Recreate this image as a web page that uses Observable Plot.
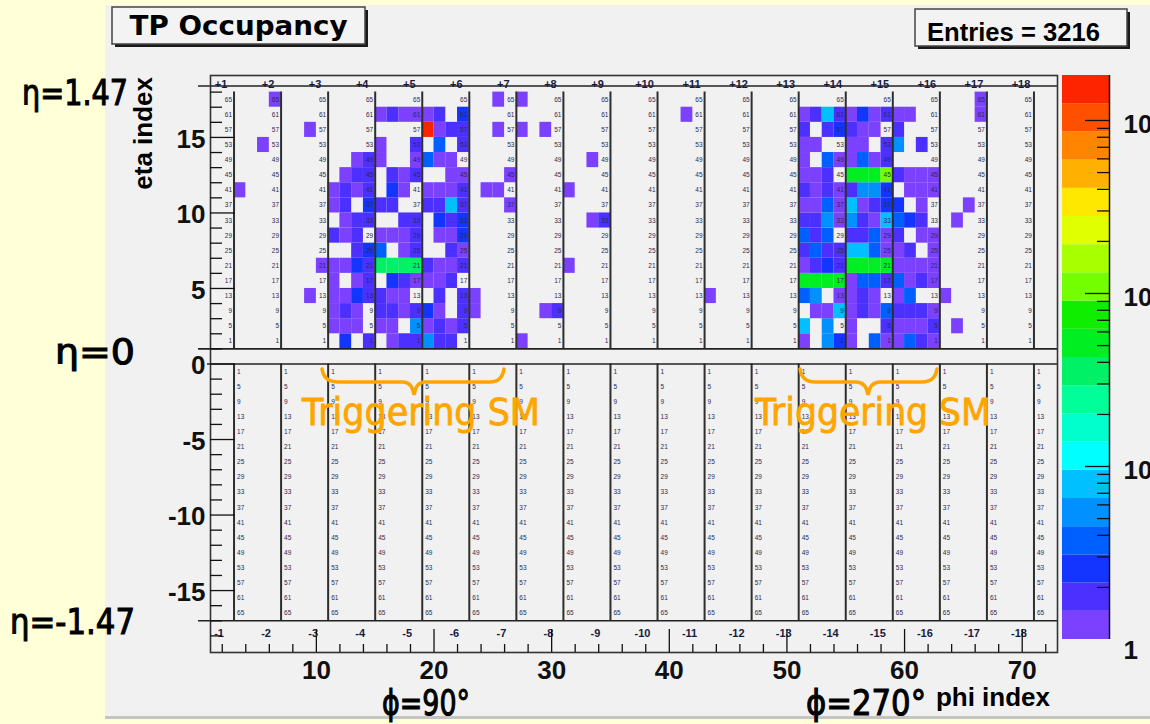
<!DOCTYPE html>
<html>
<head>
<meta charset="utf-8">
<script src="https://cdn.jsdelivr.net/npm/d3@7"></script>
<script src="https://cdn.jsdelivr.net/npm/@observablehq/plot@0.6"></script>
<style>
html,body{margin:0;padding:0;background:#ffffd8;}
#wrap{position:relative;width:1150px;height:724px;overflow:hidden;background:#ffffd8;}
#canvas{position:absolute;left:105px;top:5px;width:1045px;height:711px;background:#f1f1f1;border-bottom:3px solid #c4c4c4;}
.layer{position:absolute;left:0;top:0;}
</style>
</head>
<body>
<div id="wrap">
  <div id="canvas"></div>
  <div id="main" class="layer"></div>
  <div id="cbar" class="layer"></div>
  <svg id="overlay" class="layer" width="1150" height="724"></svg>
</div>
<script>
// ---------------- DATA ----------------
const titleText = "TP Occupancy";
const entriesText = "Entries = 3216";
// occupied trigger towers of the eta>0 half: [phi index, count] for eta rows 1..17
const row17 = [[6,1],[25,1],[27,1],[66,1]];
const row16 = [[15,1],[16,2],[17,1],[18,1],[19,1],[20,2],[22,3],[41,1],[51,1],[52,2],[53,7],[54,2],[55,1],[56,3],[57,1],[58,2],[59,1],[60,1],[66,1]];
const row15 = [[9,1],[19,1700],[20,1],[21,2],[22,2],[25,1],[27,1],[29,1],[51,2],[53,2],[54,3],[55,2],[56,1],[57,1],[59,2]];
const row14 = [[5,1],[15,1],[18,2],[20,4],[22,2],[51,1],[52,1],[55,1],[56,1],[58,2],[59,5],[61,2]];
const row13 = [[13,1],[14,2],[15,1],[18,1],[19,4],[20,1],[21,1],[33,1],[51,1],[53,4],[54,1],[55,1],[56,4],[57,1],[58,2]];
const row12 = [[12,1],[13,2],[14,2],[16,2],[17,1],[18,2],[21,1],[22,1],[26,1],[51,1],[52,1],[53,2],[55,50],[56,50],[57,50],[58,100],[59,2],[60,1],[61,1],[62,1]];
const row11 = [[3,1],[11,1],[12,2],[13,1],[14,2],[16,3],[17,1],[19,1],[20,1],[21,1],[22,2],[24,1],[25,1],[31,1],[51,2],[52,1],[53,2],[54,1],[55,2],[56,5],[57,5],[58,3],[60,1],[61,1],[62,1]];
const row10 = [[11,1],[12,2],[14,3],[15,2],[16,2],[19,2],[20,2],[21,7],[22,2],[26,1],[51,1],[52,1],[53,4],[54,1],[55,7],[56,1],[57,2],[58,3],[59,3],[61,1],[65,1]];
const row9  = [[12,1],[13,2],[14,2],[17,2],[18,2],[20,3],[21,2],[22,3],[33,1],[34,2],[51,2],[52,2],[53,6],[54,1],[55,5],[56,2],[57,1],[58,7],[59,4],[60,3],[61,2],[64,1]];
const row8  = [[11,2],[12,1],[13,2],[15,1],[16,1],[17,1],[18,2],[20,1],[21,1],[22,3],[51,4],[52,2],[53,4],[55,2],[56,2],[57,4],[58,1],[59,2],[61,1],[62,1]];
const row7  = [[13,2],[14,3],[15,4],[17,1],[18,2],[21,2],[22,1],[51,2],[52,4],[53,2],[54,2],[55,7],[56,7],[57,4],[58,1],[59,1],[60,2],[62,1]];
const row6  = [[10,1],[11,1],[12,1],[13,3],[14,2],[15,35],[16,35],[17,35],[18,35],[19,2],[20,1],[21,1],[22,2],[31,1],[51,1],[52,2],[53,3],[54,2],[55,50],[56,50],[57,50],[58,50],[59,1],[60,1],[61,1],[62,1]];
const row5  = [[11,1],[13,1],[14,2],[16,3],[17,2],[18,1],[19,1],[20,1],[21,2],[51,50],[52,50],[53,50],[54,50],[55,1],[56,4],[57,4],[58,2],[59,4],[60,1],[61,2],[62,1]];
const row4  = [[9,1],[11,1],[12,1],[13,3],[14,2],[15,2],[16,1],[17,1],[20,2],[22,2],[23,1],[43,1],[51,4],[52,5],[54,1],[55,1],[56,2],[57,1],[59,1],[60,4],[63,1]];
const row3  = [[11,1],[12,2],[13,1],[15,2],[16,2],[17,1],[18,2],[19,3],[20,1],[22,2],[23,1],[29,1],[30,2],[52,1],[53,1],[54,7],[55,1],[56,2],[57,1],[58,4],[59,2],[60,2],[61,2],[62,1]];
const row2  = [[11,1],[12,1],[13,1],[15,1],[16,1],[18,5],[19,1],[20,2],[21,1],[22,2],[51,7],[53,5],[55,1],[58,2],[59,1],[60,1],[61,1],[62,2],[64,1]];
const row1  = [[12,3],[14,2],[16,1],[17,2],[18,2],[19,5],[20,2],[21,2],[27,1],[51,1],[53,5],[54,3],[55,1],[57,4],[58,1],[59,1],[60,4],[61,2],[62,1]];

// supermodule boundaries (phi index) and their names
const smEdges = [3,7,11,15,19,23,27,31,35,39,43,47,51,55,59,63,67,71];
const smTop = ["+1","+2","+3","+4","+5","+6","+7","+8","+9","+10","+11","+12","+13","+14","+15","+16","+17","+18"];
const smBottom = ["-1","-2","-3","-4","-5","-6","-7","-8","-9","-10","-11","-12","-13","-14","-15","-16","-17","-18"];
// tower labels printed in each eta row (row 1 .. row 17)
const rowLabels = [1,5,9,13,17,21,25,29,33,37,41,45,49,53,57,61,65];

// axes
const yTickValues = [-15,-10,-5,0,5,10,15];
const yTickLabels = ["-15","-10","-5","0","5","10","15"];
const yMinor = [-18,-17,-16,-14,-13,-12,-11,-9,-8,-7,-6,-4,-3,-2,-1,1,2,3,4,6,7,8,9,11,12,13,14,16,17,18];
const xTickValues = [10,20,30,40,50,60,70];
const xTickLabels = ["10","20","30","40","50","60","70"];
const xMinor = [2,4,6,8,12,14,16,18,22,24,26,28,32,34,36,38,42,44,46,48,52,54,56,58,62,64,66,68,72];

// colour axis (log)
const zMin = 1, zMax = 1820;
const zMajor = [10,100,1000];
const zMajorLabels = ["10\u00b9","10\u00b2","10\u00b3"];
const zMinor = [2,3,4,5,6,7,8,9,20,30,40,50,60,70,80,90,200,300,400,500,600,700,800,900];
const bandColors = ["#7c40ff","#4c30ff","#1434ff","#0060ff","#0090ff","#00c0ff","#00ffff","#00ffcc","#00ff99","#00f066",
                    "#00ee22","#10ee00","#74ff00","#a8ff00","#e0ff00","#ffe800","#ffb000","#ff8400","#ff5000","#ff2400"];

// ---------------- BUILD ----------------
const rows = [row1,row2,row3,row4,row5,row6,row7,row8,row9,row10,row11,row12,row13,row14,row15,row16,row17];
const cells = rows.flatMap((row, i) => row.map(([phi, count]) => ({phi, eta: i + 1, count})));
const nB = bandColors.length;
const zEdges = d3.range(nB + 1).map(k => Math.pow(10, k * Math.log10(zMax / zMin) / nB) * zMin);
const bands = bandColors.map((c, k) => ({lo: zEdges[k], hi: zEdges[k + 1], color: c}));

const topLabels = smEdges.flatMap(e => rowLabels.map((t, i) => ({x: e, y: i + 1.5, t: String(t)})));
const botLabels = smEdges.flatMap(e => rowLabels.map((t, i) => ({x: e, y: -i - 0.5, t: String(t)})));

const W = 1150, H = 724;
const ML = 210, MR = 93, MT = 75, MB = 72;
const FW = W - ML - MR, FH = H - MT - MB;
const axisFont = {fontFamily: "Liberation Sans", fontWeight: "bold", fill: "#111"};

const main = Plot.plot({
  width: W, height: H,
  marginLeft: ML, marginRight: MR, marginTop: MT, marginBottom: MB,
  x: {domain: [1, 73], axis: null},
  y: {domain: [-19.1, 19.1], axis: null},
  color: {type: "threshold", domain: zEdges.slice(1, nB), range: bandColors},
  style: {background: "transparent", overflow: "visible"},
  marks: [
    Plot.rect(cells, {x1: "phi", x2: d => d.phi + 1, y1: "eta", y2: d => d.eta + 1, fill: "count"}),
    Plot.ruleX(smEdges, {y1: 1, y2: 18, stroke: "#2e2e2e", strokeWidth: 2}),
    Plot.ruleX(smEdges, {y1: -17, y2: 0, stroke: "#2e2e2e", strokeWidth: 2}),
    Plot.ruleY([18.4, 1, -17], {stroke: "#222", strokeWidth: 1.6, insetLeft: -12}),
    Plot.ruleY([0], {stroke: "#222", strokeWidth: 1.6, insetLeft: -3}),
    Plot.text(topLabels, {x: "x", y: "y", text: "t", textAnchor: "end", dx: -2, fontSize: 6.5, fontFamily: "Liberation Sans", fill: "#2a2a55"}),
    Plot.text(botLabels, {x: "x", y: "y", text: "t", textAnchor: "start", dx: 3, fontSize: 6.5, fontFamily: "Liberation Sans", fill: "#2a2a55"}),
    Plot.text(smEdges, {x: d => d, y: 18.4, text: (d, i) => smTop[i], textAnchor: "middle", dx: -13, dy: -2, fontSize: 11, fontFamily: "Liberation Sans", fontWeight: "bold", fill: "#1a1a40"}),
    Plot.text(smEdges, {x: d => d, y: -17, text: (d, i) => smBottom[i], textAnchor: "middle", dx: -15, dy: 13, fontSize: 11, fontFamily: "Liberation Sans", fontWeight: "bold", fill: "#1a1a40"}),
    Plot.frame({stroke: "#333", strokeWidth: 1.6}),
    Plot.ruleY(yTickValues, {stroke: "#111", strokeWidth: 1.3, insetRight: FW - 25}),
    Plot.ruleY(yMinor, {stroke: "#111", strokeWidth: 1.3, insetRight: FW - 12}),
    Plot.ruleX(xTickValues, {stroke: "#111", strokeWidth: 1.3, insetTop: FH - 23}),
    Plot.ruleX(xMinor, {stroke: "#111", strokeWidth: 1.3, insetTop: FH - 8}),
    Plot.text(yTickValues, {y: d => d, text: (d, i) => yTickLabels[i], frameAnchor: "left", textAnchor: "end", dx: -5, dy: 2, fontSize: 26, ...axisFont}),
    Plot.text(xTickValues, {x: d => d, text: (d, i) => xTickLabels[i], frameAnchor: "bottom", lineAnchor: "top", dy: 8, fontSize: 26, ...axisFont})
  ]
});
document.getElementById("main").appendChild(main);

const cbar = Plot.plot({
  width: W, height: H,
  marginLeft: 1062, marginRight: 41, marginTop: 75, marginBottom: 85,
  x: {domain: [0, 1], axis: null},
  y: {type: "log", domain: [zMin, zMax], axis: null},
  color: {type: "identity"},
  style: {background: "transparent", overflow: "visible"},
  marks: [
    Plot.rect(bands, {x1: 0, x2: 1, y1: "lo", y2: "hi", fill: "color"}),
    Plot.ruleX([1], {stroke: "#111", strokeWidth: 1.5}),
    Plot.ruleY(zMajor, {stroke: "#111", strokeWidth: 1.3, insetLeft: 23}),
    Plot.ruleY(zMinor, {stroke: "#111", strokeWidth: 1.3, insetLeft: 35}),
    Plot.text(zMajor, {y: d => d, text: (d, i) => zMajorLabels[i], frameAnchor: "right", textAnchor: "start", dx: 14, dy: 4, fontSize: 26, ...axisFont}),
    Plot.text([zMin], {y: d => d, text: ["1"], frameAnchor: "right", textAnchor: "start", dx: 14, dy: 11, fontSize: 26, ...axisFont})
  ]
});
document.getElementById("cbar").appendChild(cbar);

// ---------------- OVERLAY: boxes, axis titles, annotations ----------------
const ov = d3.select("#overlay");
function box(x, y, w, h) {
  ov.append("rect").attr("x", x + 3).attr("y", y + 3).attr("width", w).attr("height", h).attr("fill", "#1a1a1a");
  ov.append("rect").attr("x", x).attr("y", y).attr("width", w).attr("height", h).attr("fill", "#f3f3f3").attr("stroke", "#444").attr("stroke-width", 1.5);
}
function label(x, y, s, o) {
  const t = ov.append("text").attr("x", x).attr("y", y).text(s)
    .attr("font-family", o.family || "DejaVu Sans").attr("font-size", o.size)
    .attr("font-weight", o.weight || "normal").attr("fill", o.fill || "#000")
    .attr("text-anchor", o.anchor || "start");
  if (o.stroke) t.attr("stroke", o.stroke).attr("stroke-width", o.strokeWidth);
  if (o.len) t.attr("textLength", o.len).attr("lengthAdjust", "spacingAndGlyphs");
  if (o.transform) t.attr("transform", o.transform);
  return t;
}
box(112, 7, 253, 37);
label(238.5, 35, titleText, {size: 27, weight: "bold", anchor: "middle", len: 218});
box(915, 9, 212, 37);
label(927, 41, entriesText, {family: "Liberation Sans", size: 25, weight: "bold", len: 173});

label(0, 0, "eta index", {family: "Liberation Sans", size: 26, weight: "bold", anchor: "end", transform: "translate(152,77) rotate(-90)"});
label(1050, 706, "phi index", {family: "Liberation Sans", size: 26, weight: "bold", anchor: "end"});

const annFont = {size: 35, stroke: "#000", strokeWidth: 1.1};
label(22, 105, "\u03b7=1.47", {...annFont, len: 106});
label(55, 364, "\u03b7=0", {...annFont, len: 80});
label(10, 634, "\u03b7=-1.47", {...annFont, len: 125});
label(382, 715, "\u03d5=90\u00b0", {...annFont, len: 88});
label(806, 715, "\u03d5=270\u00b0", {...annFont, len: 120});

const orange = "#ffa500";
label(302, 425, "Triggering SM", {size: 37, fill: orange, stroke: orange, strokeWidth: 0.8, len: 238});
label(755, 425, "Triggering SM", {size: 37, fill: orange, stroke: orange, strokeWidth: 0.8, len: 236});
ov.append("path").attr("d", "M322,369 Q324,382 338,382 L403,382 Q412,382 414,395 Q416,382 425,382 L490,382 Q502,382 504,369")
  .attr("fill", "none").attr("stroke", orange).attr("stroke-width", 3.5).attr("stroke-linecap", "round");
ov.append("path").attr("d", "M800,369 Q802,382 815,382 L856,382 Q866,382 868,395 Q870,382 880,382 L922,382 Q935,382 937,369")
  .attr("fill", "none").attr("stroke", orange).attr("stroke-width", 3.5).attr("stroke-linecap", "round");
</script>
</body>
</html>
